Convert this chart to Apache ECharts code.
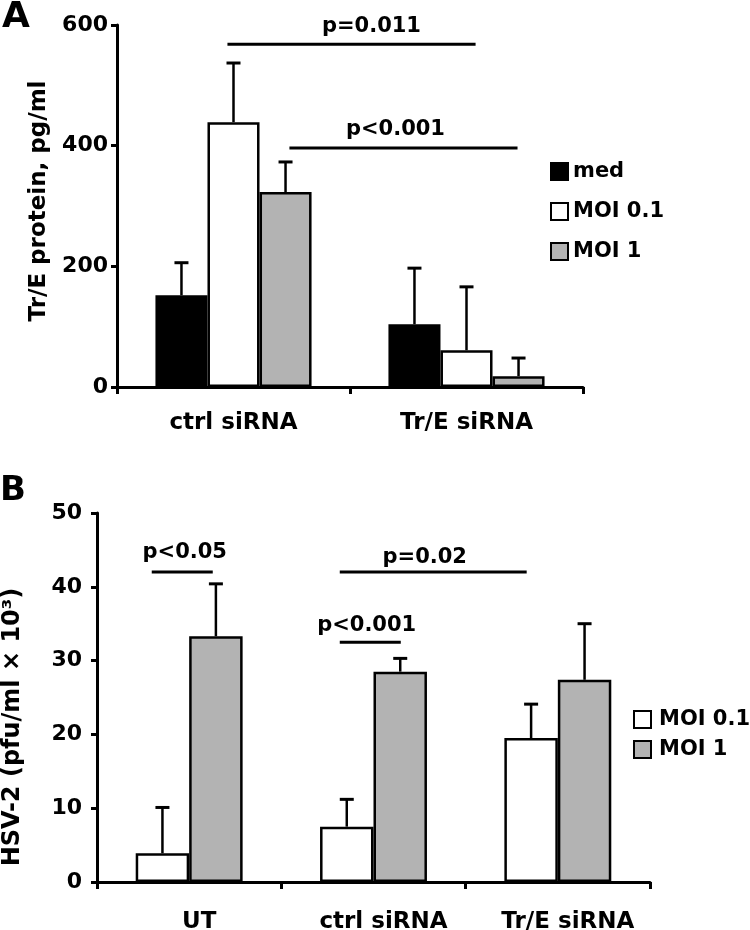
<!DOCTYPE html>
<html>
<head>
<meta charset="utf-8">
<script src="https://cdn.jsdelivr.net/npm/echarts@6/dist/echarts.min.js"></script>
<style>
html,body{margin:0;padding:0;background:#fff;}
#chart{width:750px;height:930px;}
</style>
</head>
<body>
<div id="chart"></div>
<script>
// ---------- Data ----------
const catsA = ['ctrl siRNA', 'Tr/E siRNA'];
const medA = [152, 104];
const medErrA = [206, 197];
const moi01A = [439, 61];
const moi01ErrA = [537, 166];
const moi1A = [323, 18];
const moi1ErrA = [373, 48];
const ticksA = [0, 200, 400, 600];

const catsB = ['UT', 'ctrl siRNA', 'Tr/E siRNA'];
const moi01B = [3.9, 7.5, 19.5];
const moi01ErrB = [10.1, 11.2, 24.1];
const moi1B = [33.3, 28.5, 27.4];
const moi1ErrB = [40.4, 30.3, 35.0];
const ticksB = [0, 10, 20, 30, 40, 50];

// significance annotations (x in category units from first category centre)
const sigA = [
  {text: 'p=0.011', x1: -0.026, x2: 1.039, y: 568, tx: 0.592, ty: 598},
  {text: 'p<0.001', x1: 0.24, x2: 1.219, y: 396, tx: 0.695, ty: 426}
];
const sigB = [
  {text: 'p<0.05', x1: -0.203, x2: 0.128, y: 42.0, tx: -0.024, ty: 44.6},
  {text: 'p<0.001', x1: 0.817, x2: 1.148, y: 32.5, tx: 0.963, ty: 34.7},
  {text: 'p=0.02', x1: 0.817, x2: 1.831, y: 42.0, tx: 1.278, ty: 43.9}
];

const FONT = 'DejaVu Sans';
const GRAY = '#b3b3b3';
const GAP_A = 0.33, GAP_B = 0.42;

function errRender(n, gap) {
  return function (params, api) {
    const cat = api.value(0), s = api.value(1), v = api.value(2), e = api.value(3);
    const band = api.size([1, 0])[0];
    const bw = band * (1 - gap) / n;
    const cx = api.coord([cat, 0])[0] + (s - (n - 1) / 2) * bw;
    const y0 = api.coord([cat, v])[1];
    const y1 = api.coord([cat, e])[1];
    return {
      type: 'group',
      children: [
        {type: 'line', shape: {x1: cx, y1: y0, x2: cx, y2: y1}, style: {stroke: '#000', lineWidth: 2.5}},
        {type: 'line', shape: {x1: cx - 7, y1: y1, x2: cx + 7, y2: y1}, style: {stroke: '#000', lineWidth: 3}}
      ]
    };
  };
}

function sigRender(list) {
  return function (params, api) {
    const d = list[params.dataIndex];
    const c0 = api.coord([0, 0])[0];
    const band = api.size([1, 0])[0];
    const y = api.coord([0, d.y])[1];
    const ty = api.coord([0, d.ty])[1];
    return {
      type: 'group',
      children: [
        {type: 'line', shape: {x1: c0 + d.x1 * band, y1: y, x2: c0 + d.x2 * band, y2: y},
          style: {stroke: '#000', lineWidth: 3}},
        {type: 'text', style: {text: d.text, x: c0 + d.tx * band, y: ty, fill: '#000',
          font: 'bold 21px "' + FONT + '"', align: 'center', verticalAlign: 'middle'}}
      ]
    };
  };
}

function errData(vals, errs, s) {
  return vals.map((v, i) => [i, s, v, errs[i]]);
}

const barBorder = {borderColor: '#000', borderWidth: 2.5};
const axisText = {color: '#000', fontFamily: FONT, fontWeight: 'bold', fontSize: 22};

const chart = echarts.init(document.getElementById('chart'), null, {renderer: 'canvas'});
chart.setOption({
  backgroundColor: '#fff',
  animation: false,
  graphic: [
    {type: 'text', left: 2, top: 0, style: {text: 'A', font: 'bold 36px "' + FONT + '"', fill: '#000'}},
    {type: 'text', left: 0, top: 474, style: {text: 'B', font: 'bold 34px "' + FONT + '"', fill: '#000'}},
    {type: 'text', x: 39, y: 201, rotation: Math.PI / 2,
      style: {text: 'Tr/E protein, pg/ml', font: 'bold 23px "' + FONT + '"', fill: '#000', align: 'center', verticalAlign: 'middle'}},
    {type: 'text', x: 13, y: 727, rotation: Math.PI / 2,
      style: {text: 'HSV-2 (pfu/ml \u00d7 10\u00b3)', font: 'bold 24px "' + FONT + '"', fill: '#000', align: 'center', verticalAlign: 'middle'}}
  ],
  legend: [
    {
      orient: 'vertical', left: 545, top: 156, itemWidth: 17, itemHeight: 17, itemGap: 19,
      icon: 'rect', data: ['med', 'MOI 0.1', 'MOI 1'],
      itemStyle: {borderWidth: 2, borderColor: '#000'},
      textStyle: {color: '#000', fontFamily: FONT, fontWeight: 'bold', fontSize: 21}
    },
    {
      orient: 'vertical', left: 628, top: 704, itemWidth: 17, itemHeight: 17, itemGap: 9,
      icon: 'rect', data: ['MOI 0.1', 'MOI 1'],
      itemStyle: {borderWidth: 2, borderColor: '#000'},
      textStyle: {color: '#000', fontFamily: FONT, fontWeight: 'bold', fontSize: 21, padding: [0, 0, 0, 3]}
    }
  ],
  grid: [
    {left: 117, top: 25, width: 466, height: 362, outerBoundsMode: 'none', containLabel: false},
    {left: 97, top: 513, width: 553, height: 369, outerBoundsMode: 'none', containLabel: false}
  ],
  xAxis: [
    {
      type: 'category', gridIndex: 0, data: catsA,
      axisLine: {lineStyle: {color: '#000', width: 3}},
      axisTick: {show: true, length: 7, lineStyle: {color: '#000', width: 3}},
      axisLabel: Object.assign({}, axisText, {margin: 25, fontSize: 23})
    },
    {
      type: 'category', gridIndex: 1, data: catsB,
      axisLine: {lineStyle: {color: '#000', width: 3}},
      axisTick: {show: true, length: 7, lineStyle: {color: '#000', width: 3}},
      axisLabel: Object.assign({}, axisText, {margin: 29, fontSize: 23, padding: [0, 0, 0, 20]})
    }
  ],
  yAxis: [
    {
      type: 'value', gridIndex: 0, min: 0, max: 600, interval: 200,
      axisLine: {show: true, lineStyle: {color: '#000', width: 3}},
      axisTick: {show: true, length: 6, lineStyle: {color: '#000', width: 3}},
      splitLine: {show: false},
      axisLabel: Object.assign({}, axisText, {margin: 9})
    },
    {
      type: 'value', gridIndex: 1, min: 0, max: 50, interval: 10,
      axisLine: {show: true, lineStyle: {color: '#000', width: 3}},
      axisTick: {show: true, length: 6, lineStyle: {color: '#000', width: 3}},
      splitLine: {show: false},
      axisLabel: Object.assign({}, axisText, {margin: 15})
    }
  ],
  series: [
    {name: 'med', type: 'bar', xAxisIndex: 0, yAxisIndex: 0, data: medA, barGap: '0%', barCategoryGap: (GAP_A * 100) + '%',
      itemStyle: Object.assign({color: '#000'}, barBorder)},
    {name: 'MOI 0.1', type: 'bar', xAxisIndex: 0, yAxisIndex: 0, data: moi01A, barGap: '0%', barCategoryGap: (GAP_A * 100) + '%',
      itemStyle: Object.assign({color: '#fff'}, barBorder)},
    {name: 'MOI 1', type: 'bar', xAxisIndex: 0, yAxisIndex: 0, data: moi1A, barGap: '0%', barCategoryGap: (GAP_A * 100) + '%',
      itemStyle: Object.assign({color: GRAY}, barBorder)},
    {type: 'custom', xAxisIndex: 0, yAxisIndex: 0, renderItem: errRender(3, GAP_A), clip: false, z: 5,
      encode: {x: 0, y: 3},
      data: errData(medA, medErrA, 0).concat(errData(moi01A, moi01ErrA, 1), errData(moi1A, moi1ErrA, 2))},
    {type: 'custom', xAxisIndex: 0, yAxisIndex: 0, renderItem: sigRender(sigA), clip: false, z: 5,
      encode: {x: 0, y: 1}, data: sigA.map(d => [0, d.y])},

    {name: 'MOI 0.1', type: 'bar', xAxisIndex: 1, yAxisIndex: 1, data: moi01B, barGap: '0%', barCategoryGap: (GAP_B * 100) + '%',
      itemStyle: Object.assign({color: '#fff'}, barBorder)},
    {name: 'MOI 1', type: 'bar', xAxisIndex: 1, yAxisIndex: 1, data: moi1B, barGap: '0%', barCategoryGap: (GAP_B * 100) + '%',
      itemStyle: Object.assign({color: GRAY}, barBorder)},
    {type: 'custom', xAxisIndex: 1, yAxisIndex: 1, renderItem: errRender(2, GAP_B), clip: false, z: 5,
      encode: {x: 0, y: 3},
      data: errData(moi01B, moi01ErrB, 0).concat(errData(moi1B, moi1ErrB, 1))},
    {type: 'custom', xAxisIndex: 1, yAxisIndex: 1, renderItem: sigRender(sigB), clip: false, z: 5,
      encode: {x: 0, y: 1}, data: sigB.map(d => [0, d.y])}
  ]
});
</script>
</body>
</html>
